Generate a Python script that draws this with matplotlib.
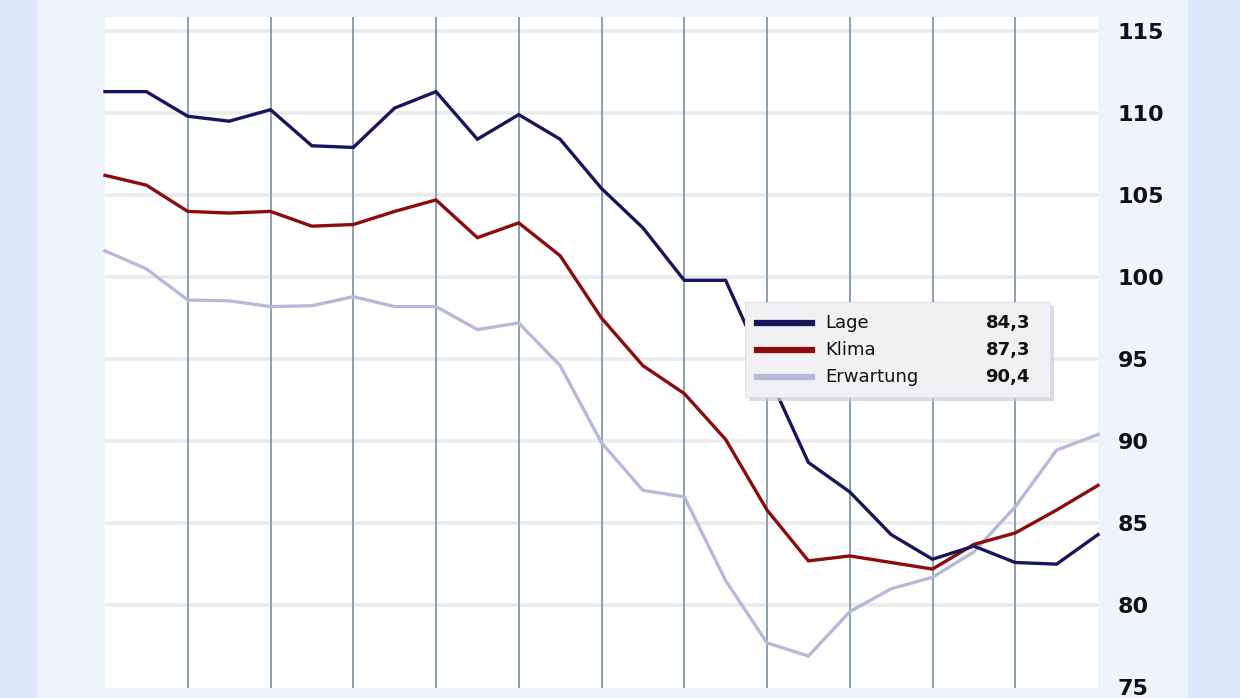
import matplotlib
matplotlib.use("Agg")
import matplotlib.pyplot as plt
from matplotlib.patches import Rectangle

# ifo: monthly values Jul 2007 .. Jul 2009
lage = [111.3, 111.3, 109.8, 109.5, 110.2, 108.0, 107.9, 110.3, 111.3, 108.4,
        109.9, 108.4, 105.4, 103.0, 99.8, 99.8, 94.2, 88.7, 86.9, 84.3,
        82.8, 83.6, 82.6, 82.5, 84.3]
klima = [106.2, 105.6, 104.0, 103.9, 104.0, 103.1, 103.2, 104.0, 104.7, 102.4,
         103.3, 101.3, 97.5, 94.6, 92.9, 90.1, 85.8, 82.7, 83.0, 82.6,
         82.2, 83.7, 84.4, 85.8, 87.3]
erwartung = [101.6, 100.5, 98.6, 98.55, 98.2, 98.25, 98.8, 98.2, 98.2, 96.8,
             97.2, 94.6, 89.9, 87.0, 86.6, 81.5, 77.7, 76.9, 79.6, 81.0,
             81.7, 83.25, 86.0, 89.45, 90.4]
series_names = ["Lage", "Klima", "Erwartung"]
last_labels = ["84,3", "87,3", "90,4"]
yticks = [75, 80, 85, 90, 95, 100, 105, 110, 115]

colors = ["#15165e", "#8c0c0c", "#b6b9d8"]

W, H = 1240, 698
fig = plt.figure(figsize=(W / 100, H / 100), dpi=100)
fig.patch.set_facecolor("#dde9fb")
# inner panel
fig.patches.append(Rectangle((37 / W, 0), (1188 - 37) / W, 1, transform=fig.transFigure,
                             facecolor="#eef4fd", edgecolor="none", zorder=-5))

ax = fig.add_axes([105 / W, 1 - 688 / H, (1098 - 105) / W, (688 - 17) / H])
ax.set_zorder(1)
ax.set_facecolor("white")
x = list(range(len(lage)))
ax.set_xlim(0, len(lage) - 1)
ax.set_ylim(74.95, 115.85)

for v in yticks[1:]:
    ax.axhline(v, color="#ebebeb", lw=2.6, zorder=1)
for xv in range(2, len(lage) - 1, 2):
    ax.axvline(xv, color="#8d9fae", lw=1.4, zorder=1)

for data, c in zip([erwartung, klima, lage], [colors[2], colors[1], colors[0]]):
    ax.plot(x, data, color=c, lw=2.4, zorder=3, solid_joinstyle="miter", clip_on=False)

for s in ax.spines.values():
    s.set_visible(False)
ax.yaxis.set_ticks_position("right")
ax.set_yticks(yticks)
ax.set_yticklabels([str(v) for v in yticks], fontsize=16, fontweight="bold",
                   color="#111111", family="DejaVu Sans")
ax.tick_params(axis="both", which="both", left=False, bottom=False, right=False, top=False,
               labelbottom=False, labelleft=False, labelright=True, length=0, pad=14)
for lbl in ax.get_yticklabels():
    lbl.set_horizontalalignment("left")


def fx(px):
    return px / W


def fy(py):
    return 1 - py / H


shadow = Rectangle((fx(749), fy(401)), fx(1054) - fx(749), fy(306) - fy(401),
                   transform=fig.transFigure, facecolor="#c9cbd6", edgecolor="none",
                   alpha=0.7, zorder=5)
box = Rectangle((fx(745), fy(397)), fx(1050) - fx(745), fy(302) - fy(397),
                transform=fig.transFigure, facecolor="#f1f1f3", edgecolor="#e0e0e6",
                lw=0.8, zorder=6)
fig.patches.extend([shadow, box])
rows = [323, 350, 377]
for name, val, c, ry in zip(series_names, last_labels, colors, rows):
    fig.lines.append(plt.Line2D([fx(757), fx(812)], [fy(ry), fy(ry)], transform=fig.transFigure,
                                color=c, lw=4.5, zorder=7))
    fig.text(fx(825), fy(ry), name, fontsize=13, color="#111111", va="center", ha="left",
             zorder=8)
    fig.text(fx(1030), fy(ry), val, fontsize=13, fontweight="bold", color="#111111",
             va="center", ha="right", zorder=8)

fig.savefig("out.png", dpi=100, facecolor=fig.get_facecolor())
